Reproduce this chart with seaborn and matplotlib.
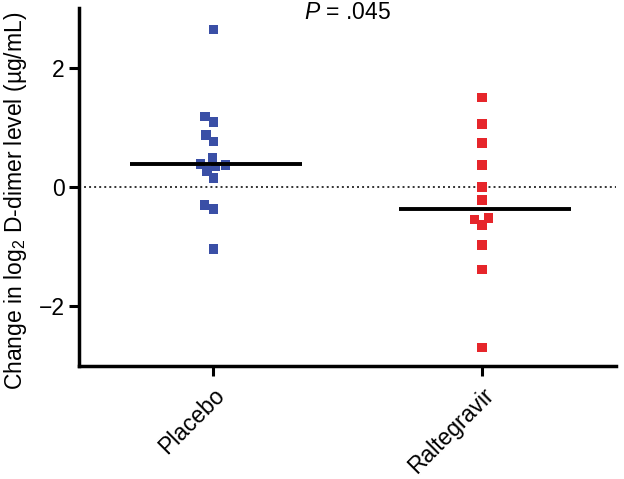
import matplotlib
matplotlib.use("Agg")
import matplotlib.pyplot as plt
import seaborn as sns
import numpy as np
import pandas as pd

groups = ["Placebo", "Raltegravir"]
placebo = [2.64, 1.18, 1.09, 0.87, 0.76, 0.49, 0.39, 0.37, 0.34, 0.27, 0.15, -0.30, -0.37, -1.04]
raltegravir = [1.50, 1.06, 0.74, 0.37, 0.0, -0.22, -0.52, -0.54, -0.64, -0.97, -1.38, -2.69]
colors = ["#3a4fa6", "#e6262b"]
yticks = [-2, 0, 2]
p_text = r"$\mathit{P}$ = .045"

sns.set_style("ticks")
plt.rcParams["font.family"] = ["Liberation Sans", "DejaVu Sans"]
plt.rcParams["mathtext.fontset"] = "custom"
plt.rcParams["mathtext.rm"] = "Liberation Sans"
plt.rcParams["mathtext.it"] = "Liberation Sans:italic"
plt.rcParams["text.color"] = "black"
plt.rcParams["axes.labelcolor"] = "black"
plt.rcParams["xtick.color"] = "black"
plt.rcParams["ytick.color"] = "black"

df = pd.DataFrame({
    "group": [groups[0]] * len(placebo) + [groups[1]] * len(raltegravir),
    "value": placebo + raltegravir,
})

fig = plt.figure(figsize=(6.24, 4.79), dpi=100)
ax = fig.add_axes([0.1266, 0.236, 0.861, 0.747])

ax.axhline(0, color="#333333", lw=1.4, ls=(0, (1, 1.6)), zorder=1)

sns.swarmplot(data=df, x="group", y="value", hue="group", palette=colors,
              marker="s", size=6.8, linewidth=0, legend=False, ax=ax, zorder=3)

for i, vals in enumerate([placebo, raltegravir]):
    m = np.median(vals)
    ax.hlines(m, i - 0.31, i + 0.33, color="black", lw=2.8, zorder=4)

ax.set_xlim(-0.5, 1.5)
ax.set_ylim(-3, 3)
ax.set_yticks(yticks)
ax.set_yticklabels(["\u2212" + str(abs(t)) if t < 0 else str(t) for t in yticks])
ax.set_xlabel("")
ax.set_ylabel(r"Change in log$_2$ D-dimer level (µg/mL)", fontsize=16.5)
ax.yaxis.set_label_coords(-0.093, 0.46)
ax.tick_params(axis="both", labelsize=16.5, width=2.2, length=7, color="black", labelcolor="black")
ax.tick_params(axis="x", pad=6)
plt.setp(ax.get_xticklabels(), rotation=45, ha="right", rotation_mode="anchor")

for s in ["left", "bottom"]:
    ax.spines[s].set_linewidth(2.5)
    ax.spines[s].set_color("black")
for s in ["top", "right"]:
    ax.spines[s].set_visible(False)

ax.text(0.5, 2.92, p_text, ha="center", va="center", fontsize=16.5)

fig.savefig("out.png", dpi=100)
